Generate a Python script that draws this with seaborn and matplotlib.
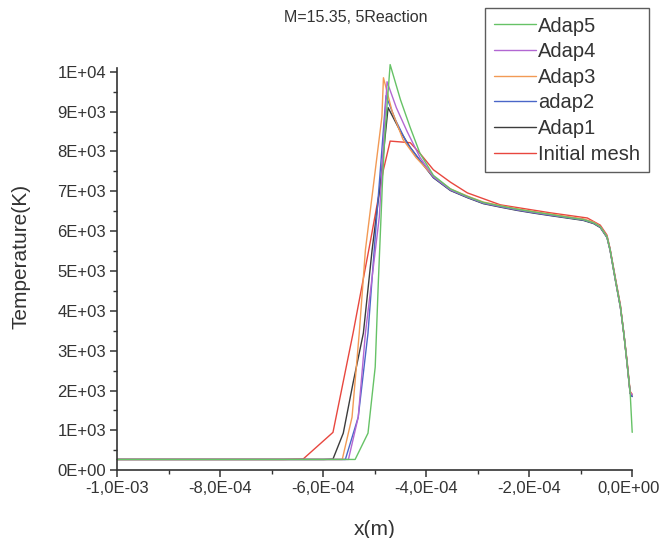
import numpy as np
import pandas as pd
import matplotlib
matplotlib.use('Agg')
import matplotlib.pyplot as plt
import matplotlib.transforms as mtransforms
import seaborn as sns

# 곡선 데이터 (x: 1E-4 m 단위, T: K) - 그림에서 읽은 값
x_init = [-10, -6.78, -6.39, -5.81, -5.42, -5.09, -4.83, -4.70, -4.31, -4.12, -3.86, -3.53,
          -3.20, -2.56, -1.59, -0.87, -0.62, -0.49, -0.43, -0.33, -0.23, -0.10, -0.04, 0.0]
t_init = [270, 270, 280, 950, 3440, 5700, 7540, 8260, 8220, 7950, 7540, 7230,
          6960, 6660, 6460, 6330, 6150, 5900, 5560, 4850, 4150, 2750, 1980, 1900]

x_adap1 = [-10, -5.99, -5.81, -5.61, -5.42, -5.22, -5.05, -4.89, -4.74, -4.50, -4.31, -4.12,
           -3.86, -3.53, -3.20, -2.89, -2.55, -2.23, -1.90, -1.59, -1.27, -0.95, -0.75,
           -0.62, -0.49, -0.43, -0.33, -0.23, -0.16, -0.10, -0.04, 0.0]
t_adap1 = [270, 270, 280, 930, 2190, 3440, 5530, 7200, 9100, 8500, 8100, 7770,
           7340, 7020, 6840, 6690, 6600, 6520, 6450, 6390, 6330, 6270, 6190,
           6090, 5840, 5520, 4790, 4090, 3390, 2680, 1930, 1850]

x_adap2 = [-10, -5.57, -5.32, -5.13, -4.97, -4.78, -4.60, -4.37, -4.12,
           -3.86, -3.53, -3.20, -2.89, -2.55, -2.23, -1.90, -1.59, -1.27, -0.95, -0.75,
           -0.62, -0.49, -0.43, -0.33, -0.23, -0.16, -0.10, -0.04, 0.0]
t_adap2 = [270, 270, 1330, 3440, 6200, 9400, 8800, 8200, 7780,
           7350, 7030, 6850, 6700, 6610, 6530, 6460, 6400, 6340, 6280, 6200,
           6100, 5850, 5530, 4800, 4100, 3400, 2690, 1930, 1850]

x_adap3 = [-10, -5.63, -5.44, -5.30, -5.18, -4.86, -4.83, -4.66, -4.45, -4.20,
           -3.86, -3.53, -3.20, -2.89, -2.55, -2.23, -1.90, -1.59, -1.27, -0.95, -0.75,
           -0.62, -0.49, -0.43, -0.33, -0.23, -0.16, -0.10, -0.04, 0.0]
t_adap3 = [270, 270, 1330, 3440, 5530, 8870, 9850, 9000, 8300, 7850,
           7380, 7060, 6880, 6730, 6640, 6560, 6490, 6430, 6370, 6310, 6230,
           6120, 5870, 5550, 4820, 4120, 3420, 2700, 1950, 1900]

x_adap4 = [-10, -5.51, -5.32, -5.18, -4.91, -4.80, -4.76, -4.58, -4.37, -4.12,
           -3.86, -3.53, -3.20, -2.89, -2.55, -2.23, -1.90, -1.59, -1.27, -0.95, -0.75,
           -0.62, -0.49, -0.43, -0.33, -0.23, -0.16, -0.10, -0.04, 0.0]
t_adap4 = [270, 270, 1330, 3440, 6360, 8870, 9750, 9100, 8500, 7850,
           7370, 7040, 6860, 6710, 6620, 6540, 6470, 6410, 6350, 6290, 6210,
           6110, 5860, 5540, 4810, 4110, 3410, 2690, 1940, 1900]

x_adap5 = [-10, -5.38, -5.13, -4.99, -4.93, -4.85, -4.80, -4.70, -4.50, -4.31, -4.12,
           -3.86, -3.53, -3.20, -2.89, -2.55, -2.23, -1.90, -1.59, -1.27, -0.95, -0.75,
           -0.62, -0.49, -0.43, -0.33, -0.23, -0.16, -0.10, -0.04, 0.0]
t_adap5 = [270, 270, 930, 2590, 4700, 7200, 8470, 10180, 9300, 8600, 7950,
           7400, 7060, 6870, 6720, 6630, 6550, 6480, 6420, 6350, 6290, 6210,
           6110, 5860, 5540, 4810, 4110, 3400, 2690, 1950, 950]

names = ['Initial mesh', 'Adap1', 'adap2', 'Adap3', 'Adap4', 'Adap5']
colors = ['#e8473f', '#3c3c3c', '#4a66c8', '#f29a55', '#b267d2', '#66c266']

xticks = [-1.0e-3, -8.0e-4, -6.0e-4, -4.0e-4, -2.0e-4, 0.0]
xtick_labels = ['-1,0E-03', '-8,0E-04', '-6,0E-04', '-4,0E-04', '-2,0E-04', '0,0E+00']
yticks = [0, 1000, 2000, 3000, 4000, 5000, 6000, 7000, 8000, 9000, 10000]
ytick_labels = ['0E+00', '1E+03', '2E+03', '3E+03', '4E+03', '5E+03',
                '6E+03', '7E+03', '8E+03', '9E+03', '1E+04']

xs = [x_init, x_adap1, x_adap2, x_adap3, x_adap4, x_adap5]
ts = [t_init, t_adap1, t_adap2, t_adap3, t_adap4, t_adap5]

rows = []
for n, xx, tt in zip(names, xs, ts):
    for a, b in zip(xx, tt):
        rows.append({'x': a * 1e-4, 'T': b, 'mesh': n})
df = pd.DataFrame(rows)

sns.set_style('ticks')
plt.rcParams['font.family'] = ['Liberation Sans', 'DejaVu Sans']

fig = plt.figure(figsize=(6.62, 5.38), dpi=100)
ax = fig.add_axes([0.177, 0.126, 0.778, 0.748])

sns.lineplot(data=df, x='x', y='T', hue='mesh', hue_order=names,
             palette=dict(zip(names, colors)), sort=False, estimator=None,
             units='mesh', linewidth=1.0, ax=ax, legend=False)
for ln in ax.lines:
    ln.set_clip_on(False)

ax.set_xlim(-1.0e-3, 0.0)
ax.set_ylim(0, 10100)
ax.set_xticks(xticks)
ax.set_xticklabels(xtick_labels)
ax.set_xticks([-9e-4, -7e-4, -5e-4, -3e-4, -1e-4], minor=True)
ax.set_yticks(yticks)
ax.set_yticklabels(ytick_labels)
ax.set_yticks(np.arange(500, 10000, 1000), minor=True)
ax.tick_params(axis='both', which='major', direction='out', length=5, width=1.1,
               labelsize=12, color='#333333', labelcolor='#333333', pad=3)
ax.tick_params(axis='both', which='minor', direction='out', length=3, width=1.0,
               color='#333333')

# 마지막 x 눈금 글자가 잘리지 않도록 살짝 왼쪽으로
last = ax.get_xticklabels()[-1]
last.set_transform(last.get_transform() +
                   mtransforms.ScaledTranslation(-4 / 100, 0, fig.dpi_scale_trans))

sns.despine(ax=ax)
for s in ['left', 'bottom']:
    ax.spines[s].set_linewidth(1.2)
    ax.spines[s].set_color('#333333')

ax.set_xlabel('x(m)', fontsize=15, color='#333333')
ax.set_ylabel('Temperature(K)', fontsize=15, color='#333333')
ax.xaxis.set_label_coords(0.5, -0.124)
ax.yaxis.set_label_coords(-0.169, 0.53)

fig.text(0.538, 0.967, 'M=15.35, 5Reaction', ha='center', va='center',
         fontsize=11.5, color='#333333')

# 범례 (Adap5 위쪽)
handles = list(ax.lines)[::-1]
leg = fig.legend(handles, names[::-1], loc='upper left', bbox_to_anchor=(0.733, 0.985),
                 bbox_transform=fig.transFigure, fontsize=14.5, frameon=True, fancybox=False,
                 handlelength=2.1, handletextpad=0.12, labelspacing=0.33, borderpad=0.42,
                 borderaxespad=0)
leg.get_frame().set_edgecolor('#333333')
leg.get_frame().set_linewidth(1.0)
for t in leg.get_texts():
    t.set_color('#333333')

fig.savefig('out.png', dpi=100)
